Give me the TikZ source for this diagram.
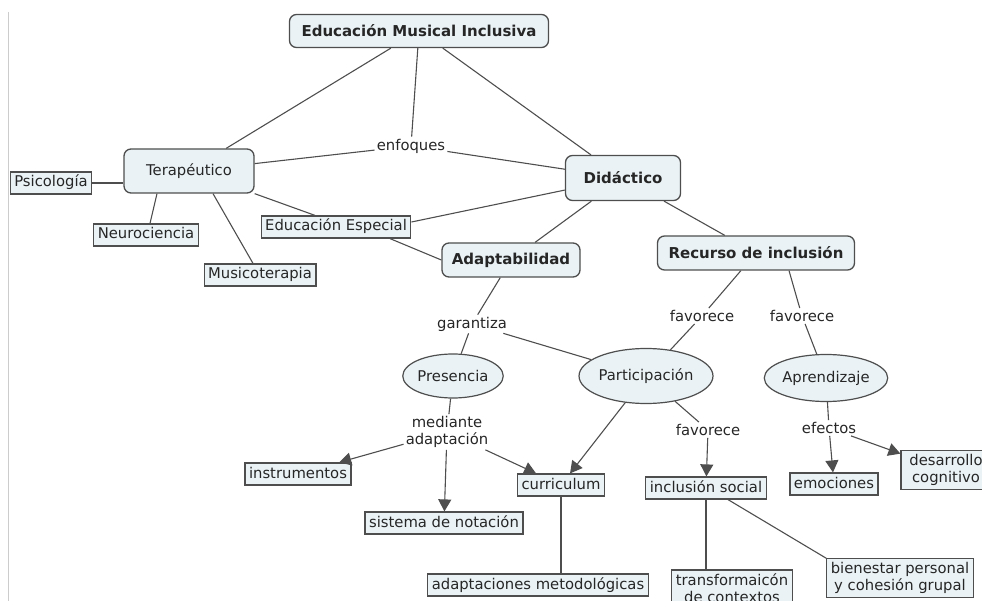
\documentclass[tikz,border=0pt]{standalone}
\usepackage{fontspec}
\setmainfont{DejaVu Sans}
\usepackage{xcolor}
\usepackage{tikz}
\usetikzlibrary{shapes.geometric}
\usetikzlibrary{arrows.meta}

\definecolor{cmfill}{HTML}{EAF2F6}
\definecolor{cmline}{HTML}{4E4E4E}

\begin{document}
\begin{tikzpicture}[x = 1pt, y = -1pt,
	every node/.style = {font = \fontsize{14.8}{17}\selectfont, text = black!85},
	concept/.style = {draw = cmline, fill = cmfill, line width = 1.3pt, rounded corners = 7pt, inner sep = 0pt, font = \fontsize{15}{17}\selectfont\bfseries},
	topic/.style = {ellipse, draw = cmline, fill = cmfill, line width = 1.2pt, inner sep = 0pt},
	leafbase/.style = {rectangle, draw = cmline, fill = cmfill, line width = 1.2pt, inner xsep = 4pt, inner ysep = 3.5pt},
	leaf/.style = {leafbase, text height = 11.5pt, text depth = 3.5pt},
	phrase/.style = {inner sep = 2pt},
	link/.style = {draw = cmline, line width = 1.1pt},
	arr/.style = {link, -{Triangle[length = 12pt, width = 13pt]}}]
	\useasboundingbox (0, 0) rectangle (982, 601);
	\clip (0, 0) rectangle (982, 601);
	\draw[black!20, line width = 1pt] (8, 12) -- (8, 601);

	% main concepts
	\node[concept, minimum width = 259, minimum height = 33] (emi) at (419, 31) {Educación Musical Inclusiva};
	\node[concept, font = \fontsize{14.8}{17}\selectfont, minimum width = 130, minimum height = 44] (ter) at (189, 171) {Terapéutico};
	\node[concept, minimum width = 115, minimum height = 45] (did) at (623, 178) {Didáctico};
	\node[concept, minimum width = 138, minimum height = 34] (ada) at (511, 260) {Adaptabilidad};
	\node[concept, minimum width = 197, minimum height = 34] (rec) at (756, 253) {Recurso de inclusión};

	\node[topic, minimum width = 95, minimum height = 44] (pre) at (453, 376) {Presencia};
	\node[topic, minimum width = 123, minimum height = 55] (par) at (646, 376) {Participación};
	\node[topic, minimum width = 114, minimum height = 47] (apr) at (826, 378) {Aprendizaje};

	% linking phrases
	\foreach \name/\x/\y/\txt in {enf/411/146/enfoques, gar/472/324/garantiza, fav/702/316/favorece,
		fbv/802/316/favorece, fcv/708/430/favorece, efe/829/428/efectos}{
		\node[phrase] (\name) at (\x, \y) {\txt};}
	\node[phrase, align = center] (med) at (447, 432) {mediante\\adaptación};

	% leaves
	\foreach \name/\x/\y/\txt in {psi/51/183/Psicología, neu/146/235/Neurociencia, mus/260/275/Musicoterapia,
		ee/336/227/Educación Especial, ins/298/474/instrumentos, sis/444/523/sistema de notación,
		cur/561/485/curriculum, adm/538/585/adaptaciones metodológicas, inc/706/488/inclusión social,
		emo/834/484/emociones}{
		\node[leaf] (\name) at (\x, \y) {\txt};}
	\node[leafbase, align = center, minimum width = 90] (des) at (946, 470) {desarrollo\\cognitivo};
	\node[leafbase, align = center] (tra) at (732, 588) {transformaicón\\de contextos};
	\node[leafbase, align = center] (bie) at (900, 578) {bienestar personal\\y cohesión grupal};

	% connectors
	\foreach \a/\b in {emi/ter, emi/enf, emi/did, ter/enf, enf/did, did/ada, did/rec, ada/gar, gar/pre,
		gar/par, rec/fav, fav/par, fbv/apr, pre/med, par/fcv, apr/efe}{
		\draw[link] (\a) -- (\b);}
	\draw[link] (psi.east) -- (ter.west |- psi.east);
	\draw[link] ([xshift = -32pt]ter.south) -- ([xshift = 4pt]neu.north);
	\draw[link] ([xshift = 24pt]ter.south) -- ([xshift = -7pt]mus.north);
	\draw[link] (ter.south east) -- ([xshift = -21pt]ee.north);
	\draw[link] ([yshift = 5pt]ee.east) -- (did);
	\draw[link] ([xshift = 54pt]ee.south) -- (ada.west);
	\draw[link] ([xshift = 33pt]rec.south) -- (fbv);
	\draw[link] (cur) -- (cur |- adm.north);
	\draw[link] (inc) -- (inc |- tra.north);
	\draw[link] ([xshift = 22pt]inc.south) -- (bie.north west);

	\foreach \a/\b in {med/ins, med/sis, med/cur, par/cur, fcv/inc, efe/emo, efe/des}{
		\draw[arr] (\a) -- (\b);}
\end{tikzpicture}
\end{document}
